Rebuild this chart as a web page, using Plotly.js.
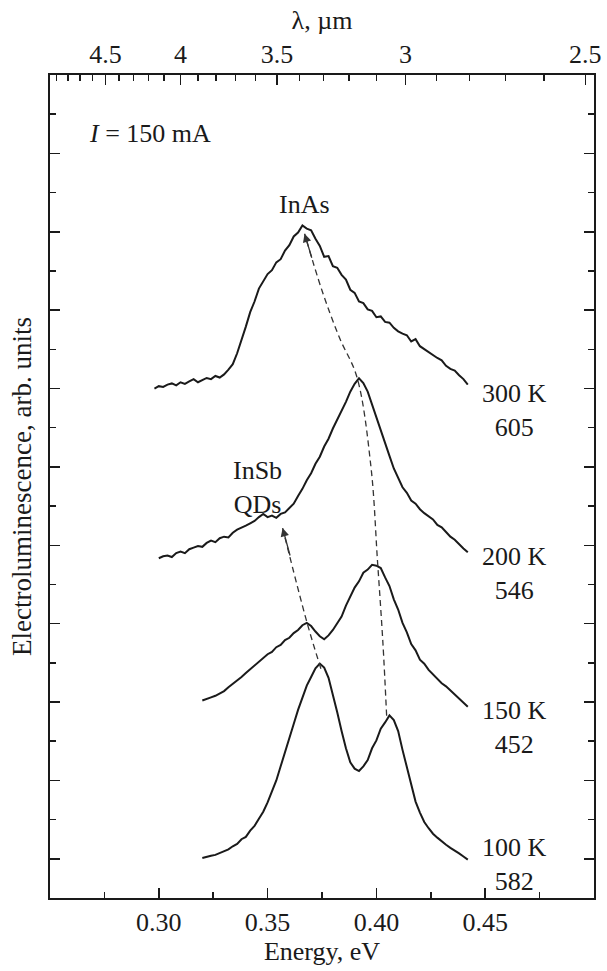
<!DOCTYPE html>
<html>
<head>
<meta charset="utf-8">
<script src="https://cdn.plot.ly/plotly-3.0.1.min.js"></script>
<style>html,body{margin:0;padding:0;background:#fff}#chart{width:607px;height:971px}</style>
</head>
<body>
<div id="chart"></div>
<script>
// ---- data (energy in eV, intensity in arb. units, curves stacked as drawn) ----
const e300 = [0.298,0.300,0.302,0.304,0.306,0.308,0.310,0.312,0.314,0.316,0.318,0.320,0.322,0.324,0.326,0.328,0.330,0.332,0.334,0.336,0.338,0.340,0.342,0.344,0.346,0.348,0.350,0.352,0.354,0.356,0.358,0.360,0.362,0.364,0.366,0.368,0.370,0.372,0.374,0.376,0.378,0.380,0.382,0.384,0.386,0.388,0.390,0.392,0.394,0.396,0.398,0.400,0.402,0.404,0.406,0.408,0.410,0.412,0.414,0.416,0.418,0.420,0.422,0.424,0.426,0.428,0.430,0.432,0.434,0.436,0.438,0.440,0.442];
const i300 = [13.00,13.06,13.04,13.10,13.13,13.08,13.16,13.12,13.18,13.24,13.16,13.22,13.27,13.24,13.32,13.28,13.36,13.48,13.62,13.90,14.22,14.58,14.95,15.22,15.55,15.72,15.92,16.02,16.22,16.30,16.52,16.66,16.88,16.98,17.16,17.08,17.04,16.82,16.64,16.36,16.38,16.12,16.08,15.90,15.78,15.52,15.44,15.22,15.18,15.02,14.98,14.82,14.84,14.70,14.68,14.55,14.46,14.40,14.36,14.20,14.26,14.08,14.00,13.94,13.84,13.78,13.72,13.58,13.50,13.46,13.34,13.24,13.10];

const e200 = [0.300,0.302,0.304,0.306,0.308,0.310,0.312,0.314,0.316,0.318,0.320,0.322,0.324,0.326,0.328,0.330,0.332,0.334,0.336,0.338,0.340,0.342,0.344,0.346,0.348,0.350,0.352,0.354,0.356,0.358,0.360,0.362,0.364,0.366,0.368,0.370,0.372,0.374,0.376,0.378,0.380,0.382,0.384,0.386,0.388,0.390,0.392,0.394,0.396,0.398,0.400,0.402,0.404,0.406,0.408,0.410,0.412,0.414,0.416,0.418,0.420,0.422,0.424,0.426,0.428,0.430,0.432,0.434,0.436,0.438,0.440,0.442];
const i200 = [8.67,8.72,8.74,8.70,8.80,8.84,8.80,8.90,8.94,8.98,8.96,9.06,9.12,9.08,9.18,9.22,9.20,9.32,9.40,9.44,9.50,9.56,9.62,9.72,9.80,9.72,9.76,9.70,9.80,9.84,9.96,10.06,10.26,10.44,10.66,10.84,11.08,11.26,11.52,11.72,11.98,12.20,12.44,12.66,12.92,13.12,13.26,13.14,12.92,12.58,12.26,11.92,11.56,11.28,10.96,10.74,10.48,10.34,10.14,10.06,9.92,9.82,9.74,9.66,9.52,9.46,9.34,9.22,9.14,9.02,8.92,8.82];

const e150 = [0.320,0.322,0.324,0.326,0.328,0.330,0.332,0.334,0.336,0.338,0.340,0.342,0.344,0.346,0.348,0.350,0.352,0.354,0.356,0.358,0.360,0.362,0.364,0.366,0.368,0.370,0.372,0.374,0.376,0.378,0.380,0.382,0.384,0.386,0.388,0.390,0.392,0.394,0.396,0.398,0.400,0.402,0.404,0.406,0.408,0.410,0.412,0.414,0.416,0.418,0.420,0.422,0.424,0.426,0.428,0.430,0.432,0.434,0.436,0.438,0.440,0.442];
const i150 = [5.04,5.09,5.12,5.16,5.22,5.28,5.38,5.46,5.54,5.64,5.74,5.84,5.94,6.04,6.12,6.22,6.28,6.40,6.46,6.58,6.64,6.76,6.84,6.96,7.02,6.94,6.80,6.68,6.60,6.70,6.84,7.02,7.18,7.46,7.68,7.92,8.08,8.30,8.38,8.50,8.48,8.42,8.18,7.96,7.62,7.36,7.02,6.78,6.48,6.32,6.08,5.98,5.82,5.70,5.60,5.48,5.40,5.30,5.20,5.10,5.00,4.88];

const e100 = [0.320,0.322,0.324,0.326,0.328,0.330,0.332,0.334,0.336,0.338,0.340,0.342,0.344,0.346,0.348,0.350,0.352,0.354,0.356,0.358,0.360,0.362,0.364,0.366,0.368,0.370,0.372,0.374,0.376,0.378,0.380,0.382,0.384,0.386,0.388,0.390,0.392,0.394,0.396,0.398,0.400,0.402,0.404,0.406,0.408,0.410,0.412,0.414,0.416,0.418,0.420,0.422,0.424,0.426,0.428,0.430,0.432,0.434,0.436,0.438,0.440,0.442];
const i100 = [1.02,1.06,1.08,1.10,1.15,1.20,1.24,1.32,1.38,1.50,1.56,1.72,1.84,2.02,2.20,2.44,2.70,3.00,3.36,3.70,4.08,4.44,4.80,5.10,5.42,5.64,5.86,5.98,5.88,5.62,5.20,4.74,4.26,3.82,3.46,3.30,3.24,3.36,3.52,3.82,4.02,4.32,4.48,4.66,4.54,4.26,3.78,3.32,2.84,2.46,2.18,1.94,1.78,1.64,1.54,1.44,1.36,1.28,1.22,1.14,1.06,0.98];

// peak-shift guide lines
const inasE = [0.4047,0.403,0.4005,0.3975,0.391,0.383,0.375,0.367];
const inasI = [4.65,6.5,8.6,11.0,13.3,14.3,15.5,16.95];
const insbE = [0.3745,0.368,0.3569];
const insbI = [5.85,7.05,9.44];

// labels
const tempLabels = ['300 K','200 K','150 K','100 K'];
const countLabels = ['605','546','452','582'];
const labelE = [0.4633,0.4633,0.4633,0.4633];
const labelI = [12.45,8.29,4.36,0.85];

// axis ticks
const energyTicks = [0.30,0.35,0.40,0.45];
const energyTickText = ['0.30','0.35','0.40','0.45'];
const energyMinor = [0.275,0.325,0.375,0.425,0.475];
const lambdaTicks = [4.5,4,3.5,3,2.5];
const lambdaTickText = ['4.5','4','3.5','3','2.5'];
const lambdaMinor = [2.6,2.7,2.8,2.9,3.1,3.2,3.3,3.4,3.6,3.7,3.8,3.9,4.1,4.2,4.3,4.4,4.6,4.7,4.8,4.9];
const HC = 1.24; // eV·µm

const FONT = 'Liberation Serif, Times New Roman, serif';
const BLACK = '#1a1a1a';
const FS = 26;

const curveLine = {color: BLACK, width: 2};
const traces = [
  {x: e300, y: i300, mode: 'lines', line: curveLine, hoverinfo: 'skip'},
  {x: e200, y: i200, mode: 'lines', line: curveLine, hoverinfo: 'skip'},
  {x: e150, y: i150, mode: 'lines', line: curveLine, hoverinfo: 'skip'},
  {x: e100, y: i100, mode: 'lines', line: curveLine, hoverinfo: 'skip'},
  {x: inasE, y: inasI, mode: 'lines', line: {color: '#333', width: 1.3, dash: '6px,4px', shape: 'spline'}, hoverinfo: 'skip'},
  {x: insbE, y: insbI, mode: 'lines', line: {color: '#333', width: 1.3, dash: '6px,4px', shape: 'spline'}, hoverinfo: 'skip'},
  {x: [0.3], y: [0], xaxis: 'x2', mode: 'markers', marker: {opacity: 0}, hoverinfo: 'skip'}
];

const annotations = [];
for (let k = 0; k < tempLabels.length; k++) {
  annotations.push({x: labelE[k], y: labelI[k], xref: 'x', yref: 'y', showarrow: false,
    text: tempLabels[k] + '<br>' + countLabels[k], align: 'center',
    font: {family: FONT, size: FS, color: BLACK}});
}
annotations.push({x: 0.267, y: 19.52, xref: 'x', yref: 'y', showarrow: false, xanchor: 'left',
  text: '<i>I</i> = 150 mA', font: {family: FONT, size: FS, color: BLACK}});
annotations.push({x: 0.367, y: 17.7, xref: 'x', yref: 'y', showarrow: false,
  text: 'InAs', font: {family: FONT, size: FS, color: BLACK}});
annotations.push({x: 0.3454, y: 10.48, xref: 'x', yref: 'y', showarrow: false,
  text: 'InSb<br>QDs', align: 'center', font: {family: FONT, size: FS, color: BLACK}});
// arrow heads
annotations.push({x: inasE[inasE.length-1], y: inasI[inasI.length-1], ax: 0.3705, ay: 16.3,
  xref: 'x', yref: 'y', axref: 'x', ayref: 'y', text: '', showarrow: true,
  arrowhead: 2, arrowsize: 1.3, arrowwidth: 1.3, arrowcolor: '#333', standoff: 0});
annotations.push({x: insbE[insbE.length-1], y: insbI[insbI.length-1], ax: 0.3605, ay: 8.7,
  xref: 'x', yref: 'y', axref: 'x', ayref: 'y', text: '', showarrow: true,
  arrowhead: 2, arrowsize: 1.3, arrowwidth: 1.3, arrowcolor: '#333', standoff: 0});

const layout = {
  width: 607, height: 971,
  margin: {l: 50, r: 13, t: 75, b: 73},
  paper_bgcolor: '#fff', plot_bgcolor: '#fff',
  showlegend: false,
  font: {family: FONT, size: FS, color: BLACK},
  xaxis: {
    range: [0.25, 0.50], showgrid: false, zeroline: false,
    tickmode: 'array', tickvals: energyTicks, ticktext: energyTickText,
    ticks: 'inside', ticklen: 10, tickwidth: 1.5, tickcolor: BLACK,
    minor: {tickmode: 'array', tickvals: energyMinor, ticks: 'inside', ticklen: 6, tickwidth: 1.5, tickcolor: BLACK},
    showline: true, linewidth: 2, linecolor: BLACK, mirror: false,
    tickfont: {family: FONT, size: FS, color: BLACK},
    title: {text: 'Energy, eV', font: {family: FONT, size: FS, color: BLACK}, standoff: 2}
  },
  xaxis2: {
    overlaying: 'x', side: 'top', anchor: 'y',
    range: [0.25, 0.50], showgrid: false, zeroline: false,
    tickmode: 'array', tickvals: lambdaTicks.map(l => HC / l), ticktext: lambdaTickText,
    ticks: 'inside', ticklen: 10, tickwidth: 1.5, tickcolor: BLACK,
    minor: {tickmode: 'array', tickvals: lambdaMinor.map(l => HC / l), ticks: 'inside', ticklen: 6, tickwidth: 1.5, tickcolor: BLACK},
    showline: true, linewidth: 2, linecolor: BLACK,
    tickfont: {family: FONT, size: FS, color: BLACK},
    title: {text: 'λ, µm', font: {family: FONT, size: FS, color: BLACK}, standoff: 2}
  },
  yaxis: {
    range: [0, 21], showgrid: false, zeroline: false,
    tickmode: 'linear', tick0: 1, dtick: 2, showticklabels: false,
    ticks: 'inside', ticklen: 10, tickwidth: 1.5, tickcolor: BLACK,
    minor: {tick0: 0, dtick: 1, ticks: 'inside', ticklen: 6, tickwidth: 1.5, tickcolor: BLACK},
    showline: true, linewidth: 2, linecolor: BLACK, mirror: 'ticks',
    title: {text: 'Electroluminescence, arb. units', font: {family: FONT, size: 27, color: BLACK}, standoff: 9}
  },
  annotations: annotations
};

Plotly.newPlot('chart', traces, layout, {displayModeBar: false, staticPlot: true});
</script>
</body>
</html>
